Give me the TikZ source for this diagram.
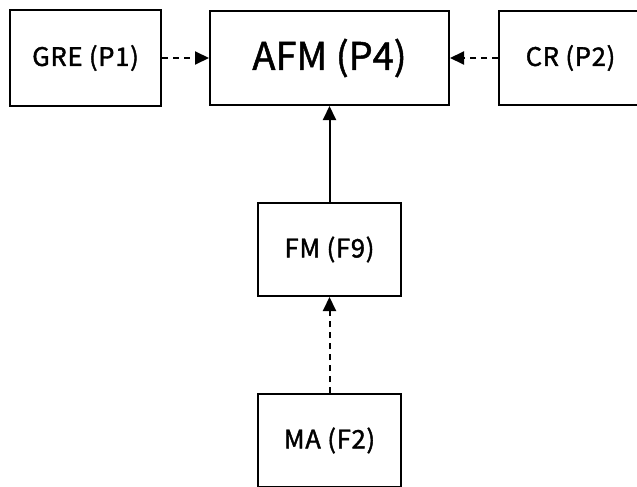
\documentclass[tikz,border=0pt]{standalone}
\usepackage{fontspec}
\setmainfont{Noto Sans CJK KR}
\newfontfamily\boxfont{Noto Sans CJK KR}[FakeBold=1.6, LetterSpace=3]
\newfontfamily\mainboxfont{Noto Sans CJK KR}[FakeBold=1.3]
\usetikzlibrary{positioning,arrows.meta}

\tikzset{
  block/.style={draw, line width=2pt, minimum width=143pt, minimum height=93pt, inner sep=0pt, font=\fontsize{25.5}{28}\boxfont},
  link/.style={line width=2pt, -{Triangle[length=14pt,width=13pt]}},
  dashlink/.style={link, dash pattern=on 6pt off 5pt},
}

\begin{document}
\begin{tikzpicture}[x=1pt,y=1pt]
    \useasboundingbox (0,0) rectangle (637,-487);
    \clip (0,0) rectangle (637,-487);
    \node [block, minimum width=239pt, minimum height=94pt, font=\fontsize{38}{42}\mainboxfont] (afm) at (329.5,-58) {AFM (P4)}; % main box at top
    \node [block, minimum width=151pt, minimum height=96pt, left=47pt of afm] (gre) {GRE (P1)}; % left input
    \node [block, right=48pt of afm] (cr) {CR (P2)}; % right input (cut by the border)
    \node [block, below=96pt of afm] (fm) {FM (F9)}; % middle box
    \node [block, below=96pt of fm] (ma) {MA (F2)}; % bottom box (cut by the border)
    \draw [dashlink] (gre) -- (afm);
    \draw [dashlink] (cr) -- (afm);
    \draw [link] (fm) -- (afm);
    \draw [dashlink] (ma) -- (fm);
\end{tikzpicture}
\end{document}
